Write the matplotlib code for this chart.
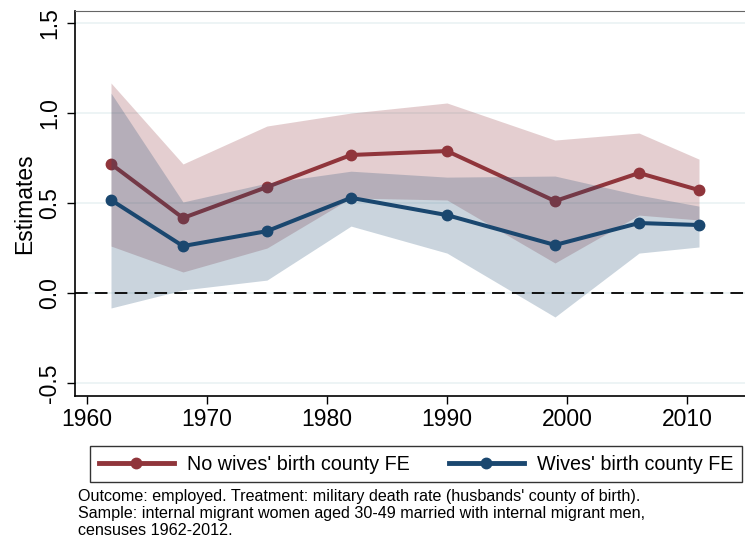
import matplotlib.pyplot as plt
from matplotlib.lines import Line2D

plt.rcParams['font.family'] = ['Liberation Sans', 'DejaVu Sans']

# census years and estimates
years = [1962, 1968, 1975, 1982, 1990, 1999, 2006, 2011]

no_fe_est = [0.717, 0.417, 0.589, 0.767, 0.789, 0.511, 0.667, 0.572]
no_fe_hi = [1.167, 0.717, 0.928, 1.000, 1.056, 0.850, 0.889, 0.744]
no_fe_lo = [0.261, 0.117, 0.250, 0.528, 0.517, 0.167, 0.433, 0.406]

fe_est = [0.517, 0.261, 0.344, 0.529, 0.433, 0.267, 0.389, 0.378]
fe_hi = [1.111, 0.506, 0.611, 0.677, 0.644, 0.650, 0.544, 0.483]
fe_lo = [-0.083, 0.017, 0.072, 0.372, 0.222, -0.133, 0.222, 0.256]

x_ticks = [1960, 1970, 1980, 1990, 2000, 2010]
y_ticks = [-0.5, 0.0, 0.5, 1.0, 1.5]
y_tick_labels = ["-0.5", "0.0", "0.5", "1.0", "1.5"]

legend_labels = ["No wives' birth county FE", "Wives' birth county FE"]
note = ("Outcome: employed. Treatment: military death rate (husbands' county of birth).\n"
        "Sample: internal migrant women aged 30-49 married with internal migrant men,\n"
        "censuses 1962-2012.")

red = "#90353B"
navy = "#1A476F"

W, H = 745, 542
fig = plt.figure(figsize=(W / 100, H / 100), dpi=100)
ax = fig.add_axes([75 / W, 1 - 396 / H, 672 / W, 385 / H])

# gridlines
for y in y_ticks:
    ax.axhline(y, color="#EAF2F3", lw=1.2, zorder=0)

ax.fill_between(years, no_fe_lo, no_fe_hi, color=red, alpha=0.24, lw=0, zorder=1)
ax.plot(years, no_fe_est, color=red, lw=2.9, marker="o", ms=7.5, zorder=2)
ax.fill_between(years, fe_lo, fe_hi, color=navy, alpha=0.23, lw=0, zorder=3)
ax.plot(years, fe_est, color=navy, lw=2.9, marker="o", ms=7.5, zorder=4)

ax.axhline(0, color="black", lw=1.3, ls=(0, (7, 4)), zorder=5)

ax.set_xlim(1959, 2015)
ax.set_ylim(-0.572, 1.567)
ax.set_xticks(x_ticks)
ax.set_yticks(y_ticks)
ax.set_yticklabels(y_tick_labels)
ax.tick_params(axis="both", labelsize=16.5, length=6, width=1, direction="out")
ax.tick_params(axis="x", pad=3)
ax.tick_params(axis="y", labelrotation=90, pad=4)
for lab in ax.get_yticklabels():
    lab.set_va("center")

ax.set_ylabel("Estimates", fontsize=16.5)
ax.yaxis.set_label_coords(-0.058, 0.5)

ax.spines["top"].set_color("#666666")
ax.spines["right"].set_visible(False)
for s in ["left", "bottom"]:
    ax.spines[s].set_linewidth(1.2)

handles = [
    Line2D([], [], color=red, lw=3.5, marker="o", ms=7.5, markevery=[1]),
    Line2D([], [], color=navy, lw=3.5, marker="o", ms=7.5, markevery=[1]),
]
for h in handles:
    h.set_xdata([0, 0.5, 1])
    h.set_ydata([0, 0, 0])
leg = fig.legend(handles, legend_labels, loc="center",
                 bbox_to_anchor=(416 / W, 1 - 464 / H), ncol=2, fontsize=14.2,
                 frameon=True, fancybox=False, edgecolor="black",
                 handlelength=3.8, handletextpad=0.65, columnspacing=2.0,
                 borderpad=0.45)
leg.get_frame().set_linewidth(1.0)

fig.text(78 / W, 1 - 489 / H, note, fontsize=11.6, va="top", ha="left",
         linespacing=1.18)

fig.savefig("out.png", dpi=100)
